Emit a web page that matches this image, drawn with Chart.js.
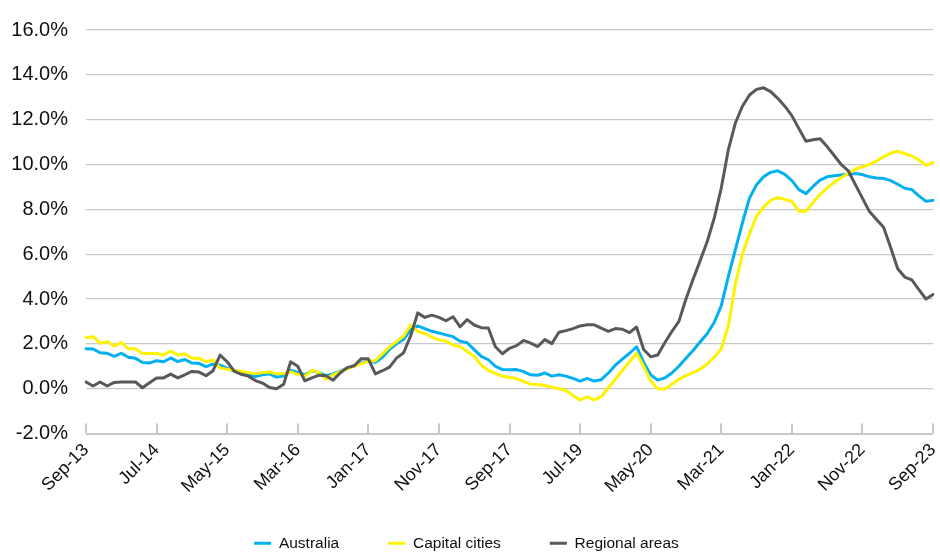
<!DOCTYPE html>
<html>
<head>
<meta charset="utf-8">
<script src="https://cdn.jsdelivr.net/npm/chart.js@4.4.0/dist/chart.umd.min.js"></script>
<style>
  html, body { margin: 0; padding: 0; background: #ffffff; }
  #wrap { width: 940px; height: 554px; }
</style>
</head>
<body>
<div id="wrap"><canvas id="chart" width="940" height="554"></canvas></div>
<script>
// Annual change (%), monthly, Sep-13 to Sep-23
const tickLabels = ['Sep-13', 'Jul-14', 'May-15', 'Mar-16', 'Jan-17', 'Nov-17', 'Sep-17',
                    'Jul-19', 'May-20', 'Mar-21', 'Jan-22', 'Nov-22', 'Sep-23'];

const australia = [
  1.78, 1.77, 1.60, 1.58, 1.44, 1.58, 1.40, 1.36, 1.17, 1.14,
  1.25, 1.20, 1.37, 1.21, 1.30, 1.14, 1.13, 0.98, 1.10, 1.05,
  0.92, 0.78, 0.70, 0.62, 0.54, 0.62, 0.66, 0.52, 0.56, 0.82,
  0.72, 0.62, 0.80, 0.72, 0.58, 0.66, 0.78, 0.90, 1.02, 1.15,
  1.22, 1.18, 1.40, 1.75, 2.00, 2.20, 2.62, 2.80, 2.68, 2.56,
  2.48, 2.40, 2.32, 2.12, 2.05, 1.74, 1.44, 1.29, 1.00, 0.85,
  0.84, 0.85, 0.76, 0.62, 0.60, 0.70, 0.56, 0.62, 0.56, 0.46,
  0.34, 0.46, 0.34, 0.40, 0.70, 1.05, 1.32, 1.58, 1.87, 1.18,
  0.62, 0.38, 0.48, 0.70, 1.00, 1.36, 1.70, 2.08, 2.45, 2.95,
  3.70, 5.00, 6.20, 7.40, 8.50, 9.10, 9.45, 9.65, 9.72, 9.56,
  9.28, 8.88, 8.70, 9.02, 9.30, 9.45, 9.50, 9.53, 9.56, 9.60,
  9.55, 9.45, 9.40, 9.38, 9.28, 9.12, 8.94, 8.88, 8.60, 8.36,
  8.40
];

const capitalCities = [
  2.28, 2.32, 2.03, 2.10, 1.90, 2.06, 1.78, 1.78, 1.57, 1.57,
  1.57, 1.50, 1.68, 1.50, 1.56, 1.36, 1.36, 1.20, 1.28, 0.92,
  0.87, 0.82, 0.77, 0.72, 0.66, 0.72, 0.74, 0.66, 0.68, 0.75,
  0.64, 0.56, 0.82, 0.72, 0.42, 0.62, 0.76, 0.88, 1.00, 1.12,
  1.22, 1.25, 1.55, 1.85, 2.10, 2.35, 2.85, 2.55, 2.46, 2.30,
  2.18, 2.12, 1.95, 1.88, 1.66, 1.45, 1.05, 0.82, 0.68, 0.55,
  0.50, 0.45, 0.32, 0.20, 0.19, 0.14, 0.06, 0.00, -0.08, -0.30,
  -0.50, -0.37, -0.50, -0.36, 0.03, 0.42, 0.82, 1.20, 1.58, 1.00,
  0.35, 0.00, -0.02, 0.20, 0.42, 0.58, 0.72, 0.87, 1.10, 1.40,
  1.77, 2.80, 4.65, 6.00, 6.90, 7.70, 8.10, 8.40, 8.52, 8.45,
  8.35, 7.92, 7.92, 8.30, 8.67, 8.95, 9.20, 9.42, 9.60, 9.80,
  9.90, 10.00, 10.15, 10.35, 10.50, 10.60, 10.48, 10.38, 10.20, 9.96,
  10.10
];

const regionalAreas = [
  0.30, 0.12, 0.30, 0.12, 0.28, 0.30, 0.30, 0.30, 0.04, 0.26,
  0.48, 0.48, 0.65, 0.48, 0.62, 0.77, 0.74, 0.58, 0.80, 1.50,
  1.20, 0.78, 0.64, 0.56, 0.36, 0.25, 0.05, 0.00, 0.20, 1.20,
  1.00, 0.35, 0.48, 0.60, 0.58, 0.38, 0.70, 0.94, 1.02, 1.34,
  1.33, 0.66, 0.80, 0.96, 1.36, 1.60, 2.36, 3.38, 3.18, 3.28,
  3.18, 3.03, 3.21, 2.76, 3.08, 2.84, 2.72, 2.71, 1.87, 1.56,
  1.80, 1.92, 2.15, 2.03, 1.88, 2.19, 2.01, 2.52, 2.59, 2.68,
  2.80, 2.85, 2.85, 2.70, 2.56, 2.68, 2.65, 2.50, 2.75, 1.75,
  1.42, 1.50, 2.05, 2.55, 3.00, 4.00, 4.87, 5.70, 6.55, 7.60,
  8.95, 10.65, 11.85, 12.60, 13.10, 13.35, 13.42, 13.25, 12.95, 12.60,
  12.18, 11.60, 11.04, 11.10, 11.15, 10.80, 10.40, 10.00, 9.72, 9.10,
  8.50, 7.90, 7.55, 7.20, 6.30, 5.35, 4.98, 4.85, 4.42, 4.00,
  4.20
];

// One category per month, starting Sep-13
const monthNames = ['Jan', 'Feb', 'Mar', 'Apr', 'May', 'Jun', 'Jul', 'Aug', 'Sep', 'Oct', 'Nov', 'Dec'];
const categories = australia.map((_, k) => {
  const m = 8 + k;
  return monthNames[m % 12] + '-' + (13 + Math.floor(m / 12));
});
const LABEL_STEP = 10;

const GRID = '#c8c8c8';
const TEXT = '#111111';
const FONT = "'Liberation Sans', Arial, sans-serif";

// Short upward tick marks on the category axis, at each labelled month
const axisTickMarks = {
  id: 'axisTickMarks',
  beforeDatasetsDraw(chart) {
    const { ctx, chartArea, scales: { x } } = chart;
    ctx.save();
    ctx.strokeStyle = GRID;
    ctx.lineWidth = 2;
    for (let k = 0; k < categories.length; k += LABEL_STEP) {
      const px = Math.round(x.getPixelForValue(k));
      ctx.beginPath();
      ctx.moveTo(px, chartArea.bottom);
      ctx.lineTo(px, chartArea.bottom - 10);
      ctx.stroke();
    }
    ctx.restore();
  }
};

// Let the rotated month labels use the full depth below the axis,
// and nudge the legend row down toward the bottom edge
const bottomLayout = {
  id: 'bottomLayout',
  afterLayout(chart) {
    const lg = chart.legend;
    if (lg) { lg.top += 7; lg.bottom += 7; }
    chart.scales.x.bottom = chart.height;
  }
};

const line = (label, data, color, order) => ({
  label, data, order,
  borderColor: color,
  backgroundColor: color,
  borderWidth: 3,
  pointRadius: 0,
  pointHoverRadius: 0,
  tension: 0,
  fill: false,
  borderJoinStyle: 'round',
  borderCapStyle: 'round'
});

new Chart(document.getElementById('chart'), {
  type: 'line',
  data: {
    labels: categories,
    datasets: [
      line('Australia', australia, '#00b0f0', 3),
      line('Capital cities', capitalCities, '#fff200', 2),
      line('Regional areas', regionalAreas, '#595959', 1)
    ]
  },
  options: {
    responsive: false,
    animation: false,
    events: [],
    layout: { padding: { top: 23, right: 7, bottom: 0, left: 0 } },
    plugins: {
      tooltip: { enabled: false },
      legend: {
        position: 'bottom',
        labels: {
          color: TEXT,
          font: { family: FONT, size: 15.5 },
          boxWidth: 17,
          boxHeight: 3,
          padding: 49,
          sort: (a, b) => a.datasetIndex - b.datasetIndex,
          generateLabels(chart) {
            return Chart.defaults.plugins.legend.labels.generateLabels(chart).map(item => {
              const ds = chart.data.datasets[item.datasetIndex];
              item.fillStyle = ds.borderColor;
              item.strokeStyle = ds.borderColor;
              item.lineWidth = 0;
              return item;
            });
          }
        }
      }
    },
    scales: {
      x: {
        type: 'category',
        offset: false,
        grid: { display: false, drawTicks: false },
        border: { display: false },
        ticks: {
          autoSkip: false,
          minRotation: 45,
          maxRotation: 45,
          padding: 6,
          color: TEXT,
          font: { family: FONT, size: 18 },
          callback: (v, i) => (i % LABEL_STEP === 0 ? tickLabels[i / LABEL_STEP] : null)
        },
        afterFit(scale) {
          scale.paddingLeft = 0;
          scale.paddingRight = 0;
          scale.height = 46;
        }
      },
      y: {
        min: -2,
        max: 16,
        grid: {
          color: GRID,
          lineWidth: (c) => (c.tick && c.tick.value === -2 ? 2 : 1.3),
          drawTicks: false
        },
        border: { display: false },
        ticks: {
          stepSize: 2,
          padding: 18,
          color: TEXT,
          font: { family: FONT, size: 20 },
          callback: (v) => v.toFixed(1) + '%'
        },
        afterFit(scale) { scale.width = 86; }
      }
    }
  },
  plugins: [axisTickMarks, bottomLayout]
});
</script>
</body>
</html>
